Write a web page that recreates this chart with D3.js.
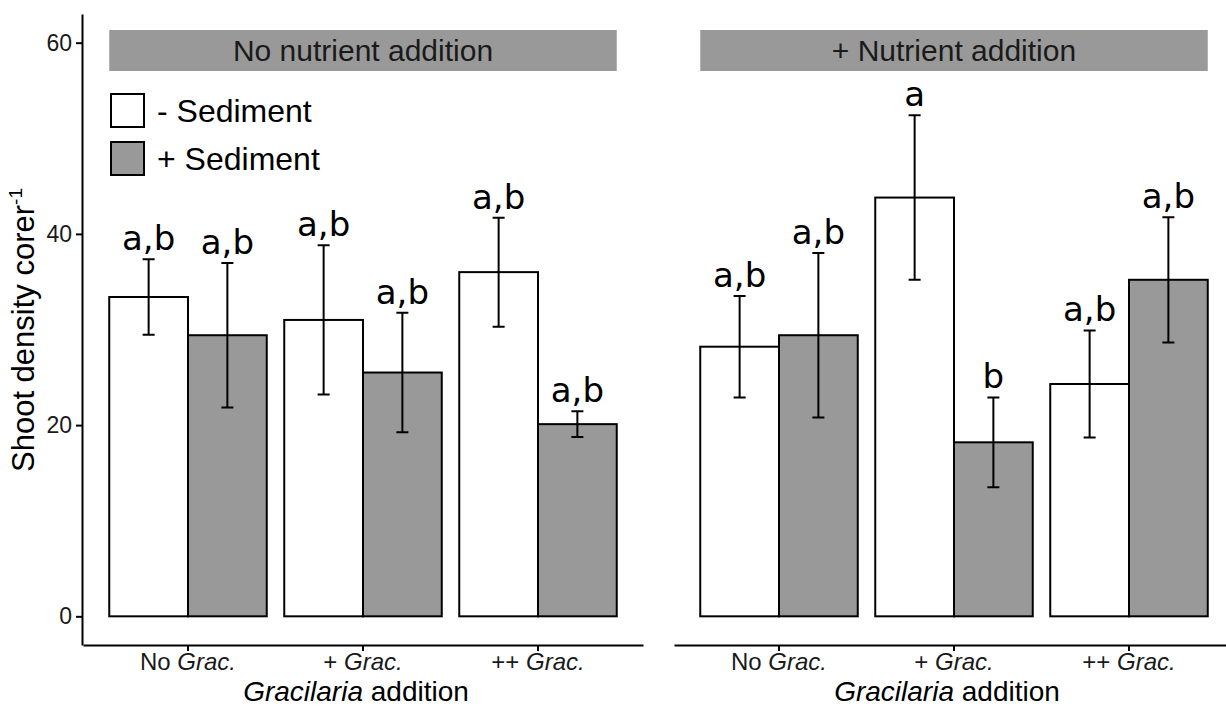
<!DOCTYPE html>
<html>
<head>
<meta charset="utf-8">
<script src="https://cdn.jsdelivr.net/npm/d3@7"></script>
<style>
  body { margin: 0; background: #fff; }
  svg { display: block; font-family: "Liberation Sans", Arial, sans-serif; }
</style>
</head>
<body>
<div class="chart"></div>
<script>
// chart data
var panels = ["No nutrient addition", "+ Nutrient addition"];
var gracLevels = ["No", "+", "++"];
var sediment = ["- Sediment", "+ Sediment"];
var yTicks = [0, 20, 40, 60];

// means and error (+/-)
var noNutMinus = [33.4, 31.0, 36.0];
var noNutMinusErr = [3.95, 7.8, 5.7];
var noNutPlus = [29.4, 25.5, 20.1];
var noNutPlusErr = [7.55, 6.25, 1.35];
var nutMinus = [28.2, 43.8, 24.3];
var nutMinusErr = [5.3, 8.6, 5.6];
var nutPlus = [29.4, 18.2, 35.2];
var nutPlusErr = [8.6, 4.7, 6.55];

var noNutMinusLetters = ["a,b", "a,b", "a,b"];
var noNutPlusLetters = ["a,b", "a,b", "a,b"];
var nutMinusLetters = ["a,b", "a", "a,b"];
var nutPlusLetters = ["a,b", "b", "a,b"];

var svgWidth = 1226;
var svgHeight = 708;
var grey = "#999999";

var svg = d3.select(".chart")
  .append("svg")
  .attr("width", svgWidth)
  .attr("height", svgHeight);

// build rows for the two panels
function rows(means, errs, letters, sed) {
  return gracLevels.map((g, i) => ({ grac: g, sed: sed, mean: means[i], err: errs[i], letter: letters[i] }));
}
var panelData = [
  rows(noNutMinus, noNutMinusErr, noNutMinusLetters, sediment[0])
    .concat(rows(noNutPlus, noNutPlusErr, noNutPlusLetters, sediment[1])),
  rows(nutMinus, nutMinusErr, nutMinusLetters, sediment[0])
    .concat(rows(nutPlus, nutPlusErr, nutPlusLetters, sediment[1]))
];

var y = d3.scaleLinear().domain([-3, 63]).range([645, 14]);
var panelRanges = [[83, 643], [674, 1234]];
var fill = d3.scaleOrdinal().domain(sediment).range(["#ffffff", grey]);

// y axis (left panel only)
var yAxis = svg.append("g")
  .attr("transform", "translate(82,0)")
  .call(d3.axisLeft(y).tickValues(yTicks).tickSize(6).tickSizeOuter(0).tickPadding(4));
yAxis.select(".domain").attr("stroke", "#000").attr("stroke-width", 2);
yAxis.selectAll(".tick line").attr("stroke", "#000").attr("stroke-width", 2);
yAxis.selectAll(".tick text")
  .attr("font-family", "Liberation Sans, Arial, sans-serif")
  .attr("font-size", 23)
  .attr("fill", "#1a1a1a");

svg.append("text")
  .attr("transform", "translate(34,330) rotate(-90)")
  .attr("text-anchor", "middle")
  .attr("font-size", 31)
  .attr("fill", "#000")
  .call(t => {
    t.append("tspan").text("Shoot density corer");
    t.append("tspan").attr("font-size", 19).attr("dy", -12).text("-1");
  });

panels.forEach((name, p) => {
  var data = panelData[p];
  var x0 = d3.scaleBand()
    .domain(gracLevels)
    .range(panelRanges[p])
    .paddingInner(0.1)
    .paddingOuter(0.15);
  var x1 = d3.scaleBand()
    .domain(sediment)
    .range([0, x0.bandwidth()]);

  var g = svg.append("g");

  // strip
  var stripX0 = x0(gracLevels[0]);
  var stripX1 = x0(gracLevels[gracLevels.length - 1]) + x0.bandwidth();
  g.append("rect")
    .attr("x", stripX0)
    .attr("y", 30)
    .attr("width", stripX1 - stripX0)
    .attr("height", 41)
    .attr("fill", grey);
  g.append("text")
    .attr("x", (stripX0 + stripX1) / 2)
    .attr("y", 61)
    .attr("text-anchor", "middle")
    .attr("font-size", 30)
    .attr("fill", "#1a1a1a")
    .text(name);

  // x axis
  var xAxis = g.append("g")
    .attr("transform", "translate(0,645)")
    .call(d3.axisBottom(x0).tickSize(6).tickSizeOuter(0).tickPadding(2));
  xAxis.select(".domain").attr("stroke", "#000").attr("stroke-width", 2);
  xAxis.selectAll(".tick line").attr("stroke", "#000").attr("stroke-width", 2);
  xAxis.selectAll(".tick text")
    .attr("font-family", "Liberation Sans, Arial, sans-serif")
    .attr("font-size", 24)
    .attr("fill", "#1a1a1a")
    .text(null)
    .each(function (d) {
      var t = d3.select(this);
      t.append("tspan").text(d + " ");
      t.append("tspan").attr("font-style", "italic").text("Grac.");
    });

  g.append("text")
    .attr("x", (panelRanges[p][0] + panelRanges[p][1]) / 2 - 7)
    .attr("y", 701)
    .attr("text-anchor", "middle")
    .attr("font-size", 28)
    .attr("fill", "#000")
    .call(t => {
      t.append("tspan").attr("font-style", "italic").text("Gracilaria");
      t.append("tspan").text(" addition");
    });

  // bars
  var bars = g.append("g").selectAll("g")
    .data(data)
    .enter()
    .append("g")
    .attr("transform", d => `translate(${x0(d.grac) + x1(d.sed)},0)`);

  bars.append("rect")
    .attr("x", 0)
    .attr("y", d => y(d.mean))
    .attr("width", x1.bandwidth())
    .attr("height", d => y(0) - y(d.mean))
    .attr("fill", d => fill(d.sed))
    .attr("stroke", "#000")
    .attr("stroke-width", 2);

  // error bars
  var cx = x1.bandwidth() / 2;
  var cap = 6;
  bars.append("path")
    .attr("d", d => {
      var top = y(d.mean + d.err), bot = y(d.mean - d.err);
      return `M${cx},${top}V${bot}M${cx - cap},${top}H${cx + cap}M${cx - cap},${bot}H${cx + cap}`;
    })
    .attr("fill", "none")
    .attr("stroke", "#000")
    .attr("stroke-width", 2);

  // letters
  bars.append("text")
    .attr("x", cx)
    .attr("y", d => y(d.mean + d.err) - 9)
    .attr("text-anchor", "middle")
    .attr("font-family", "DejaVu Sans, sans-serif")
    .attr("font-size", 34)
    .attr("fill", "#000")
    .text(d => d.letter);
});

// legend
var legend = svg.append("g").selectAll("g")
  .data(sediment)
  .enter()
  .append("g")
  .attr("transform", (d, i) => `translate(111,${94 + i * 48})`);
legend.append("rect")
  .attr("width", 33)
  .attr("height", 33)
  .attr("fill", d => fill(d))
  .attr("stroke", "#000")
  .attr("stroke-width", 2);
legend.append("text")
  .attr("x", 46)
  .attr("y", 28)
  .attr("font-size", 32)
  .attr("fill", "#000")
  .text(d => d);
</script>
</body>
</html>
